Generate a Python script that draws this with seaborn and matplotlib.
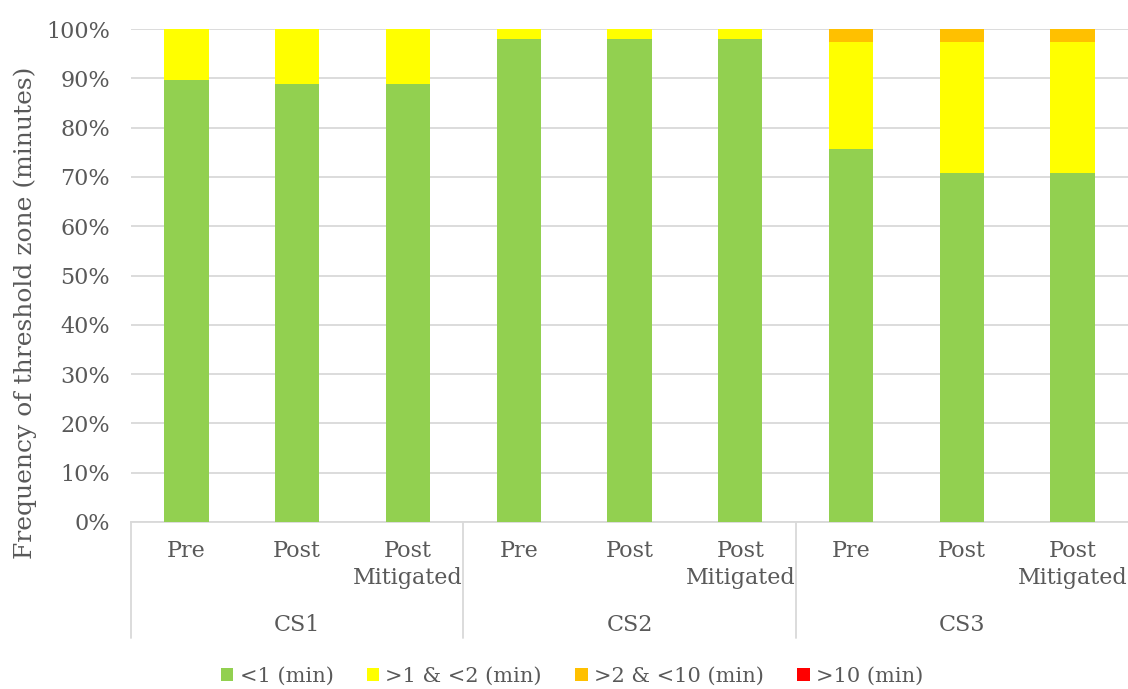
import pandas as pd
import matplotlib
matplotlib.use("Agg")
import matplotlib.pyplot as plt
import matplotlib.transforms as mtransforms
from matplotlib.patches import Patch
import seaborn as sns

# Data (percent of time in each threshold zone)
groups = ["CS1", "CS2", "CS3"]
scenarios = ["Pre", "Post", "Post\nMitigated"]
zone_labels = ["<1 (min)", ">1 & <2 (min)", ">2 & <10 (min)", ">10 (min)"]
zone_colors = ["#92D050", "#FFFF00", "#FFC000", "#FF0000"]

under_1 = [89.6, 88.8, 88.8, 98.0, 98.0, 98.0, 75.7, 70.8, 70.8]
from_1_to_2 = [10.4, 11.2, 11.2, 2.0, 2.0, 2.0, 21.7, 26.6, 26.6]
from_2_to_10 = [0.0, 0.0, 0.0, 0.0, 0.0, 0.0, 2.6, 2.6, 2.6]
over_10 = [0.0, 0.0, 0.0, 0.0, 0.0, 0.0, 0.0, 0.0, 0.0]

text_color = "#595959"
grid_color = "#D9D9D9"


def build_frame():
    bars = [f"{g}|{s}" for g in groups for s in scenarios]
    df = pd.DataFrame({
        "bar": bars,
        zone_labels[0]: under_1,
        zone_labels[1]: from_1_to_2,
        zone_labels[2]: from_2_to_10,
        zone_labels[3]: over_10,
    })
    # cumulative tops so layers can be drawn back to front
    cum = df[zone_labels].cumsum(axis=1)
    for z in zone_labels:
        df["top " + z] = cum[z]
    return df, bars


def main():
    sns.set_theme(style="white")
    plt.rcParams["font.family"] = ["DejaVu Serif"]
    plt.rcParams["text.color"] = text_color

    df, bars = build_frame()

    fig = plt.figure(figsize=(11.28, 6.89), dpi=100)
    ax = fig.add_axes([131 / 1128, 167 / 689, 997 / 1128, 493 / 689])

    # draw stacked bars: tallest cumulative layer first
    for z, c in reversed(list(zip(zone_labels, zone_colors))):
        sns.barplot(data=df, x="bar", y="top " + z, order=bars, color=c,
                    width=0.4, saturation=1, linewidth=0, ax=ax, zorder=3)

    ax.set_xlim(-0.5, len(bars) - 0.5)
    ax.set_ylim(0, 100)
    ax.set_yticks(range(0, 101, 10))
    ax.set_yticklabels([f"{v}%" for v in range(0, 101, 10)],
                       fontsize=16, color=text_color)
    ax.tick_params(axis="y", length=0, pad=15)
    ax.yaxis.grid(True, color=grid_color, linewidth=1.3, zorder=0)
    ax.set_axisbelow(True)
    ax.set_xlabel("")
    ax.set_ylabel("")
    ax.set_xticks([])
    for s in ["top", "right", "left"]:
        ax.spines[s].set_visible(False)
    ax.spines["bottom"].set_color(grid_color)
    ax.spines["bottom"].set_linewidth(1.3)

    # multi-level category axis
    trans = mtransforms.blended_transform_factory(ax.transData, ax.transAxes)
    for i, b in enumerate(bars):
        label = b.split("|")[1]
        ax.text(i, -0.036, label, transform=trans, ha="center", va="top",
                fontsize=16, color=text_color, linespacing=1.3)
    for gi, g in enumerate(groups):
        ax.text(gi * 3 + 1, -0.209, g, transform=trans, ha="center",
                va="center", fontsize=16, color=text_color)
        ax.plot([gi * 3 - 0.5, gi * 3 - 0.5], [0, -0.235], transform=trans,
                color=grid_color, linewidth=1.3, clip_on=False)

    fig.text(25 / 1128, 1 - 313 / 689, "Frequency of threshold zone (minutes)",
             rotation=90, ha="center", va="center", fontsize=18,
             color=text_color)

    handles = [Patch(facecolor=c, edgecolor="none") for c in zone_colors]
    fig.legend(handles, zone_labels, loc="center", ncol=4,
               bbox_to_anchor=(572 / 1128, 1 - 676 / 689), frameon=False,
               fontsize=15, handlelength=0.6, handleheight=0.6,
               handletextpad=0.3, columnspacing=1.6)

    fig.savefig("out.png", dpi=100)


if __name__ == "__main__":
    main()
